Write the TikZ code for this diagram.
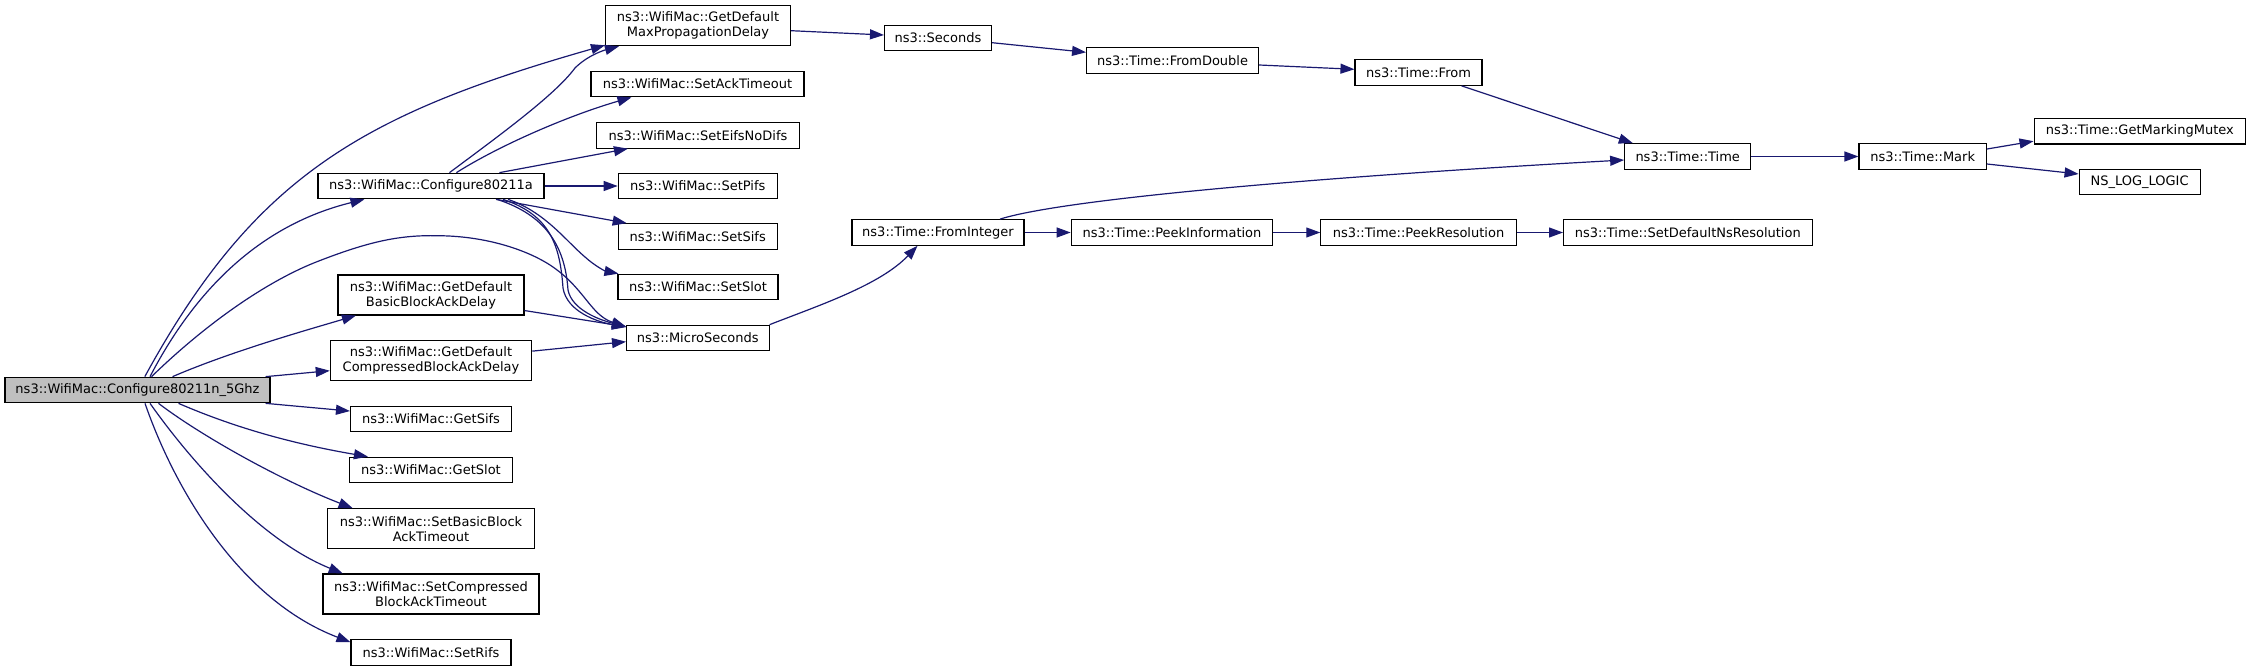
\documentclass[tikz,border=0pt]{standalone}
\usepackage{fontspec}
\setmainfont{DejaVu Sans}
\usetikzlibrary{arrows.meta,calc}
\definecolor{edgeblue}{HTML}{191970}
\definecolor{rootgray}{HTML}{BFBFBF}
\tikzset{
  fn/.style={draw=black, line width=1.1pt, fill=white, inner sep=0pt, minimum height=25.6pt,
    font=\fontsize{13}{15}\selectfont, align=center, text=black},
  fntwo/.style={fn, minimum height=40pt},
  edge/.style={draw=edgeblue, line width=1.2pt, -{Triangle[length=14pt,width=10pt]}}
}
\begin{document}
\begin{tikzpicture}[x=1pt,y=-1pt]
\useasboundingbox (0,0) rectangle (2251,671);
% nodes
\node[fn, fill=rootgray, minimum width=265pt] (A) at (137.5,390) {ns3::WifiMac::Configure80211n\_5Ghz};
\node[fntwo, minimum width=185pt] (maxprop) at (698,25.7) {ns3::WifiMac::GetDefault\\MaxPropagationDelay};
\node[fn, minimum width=213pt] (setack) at (697.5,84) {ns3::WifiMac::SetAckTimeout};
\node[fn, minimum width=203pt] (seteifs) at (698,135.3) {ns3::WifiMac::SetEifsNoDifs};
\node[fn, minimum width=226pt] (B) at (431,186) {ns3::WifiMac::Configure80211a};
\node[fn, minimum width=159pt] (setpifs) at (697.7,186) {ns3::WifiMac::SetPifs};
\node[fn, minimum width=159pt] (setsifs) at (697.7,236.5) {ns3::WifiMac::SetSifs};
\node[fn, minimum width=160pt] (setslot) at (698,287) {ns3::WifiMac::SetSlot};
\node[fntwo, minimum width=186pt] (basic) at (431,295) {ns3::WifiMac::GetDefault\\BasicBlockAckDelay};
\node[fn, minimum width=142.5pt] (micro) at (697.8,338) {ns3::MicroSeconds};
\node[fntwo, minimum width=201.4pt] (comp) at (431,360.7) {ns3::WifiMac::GetDefault\\CompressedBlockAckDelay};
\node[fn, minimum width=161pt] (getsifs) at (431,419) {ns3::WifiMac::GetSifs};
\node[fn, minimum width=163pt] (getslot) at (431,470) {ns3::WifiMac::GetSlot};
\node[fntwo, minimum width=207pt] (setbasic) at (431,528.7) {ns3::WifiMac::SetBasicBlock\\AckTimeout};
\node[fntwo, minimum width=216pt] (setcomp) at (431,594) {ns3::WifiMac::SetCompressed\\BlockAckTimeout};
\node[fn, minimum width=160pt] (setrifs) at (431,652.5) {ns3::WifiMac::SetRifs};
\node[fn, minimum width=107pt] (seconds) at (938,38) {ns3::Seconds};
\node[fn, minimum width=172pt] (fromdouble) at (1172.6,60.5) {ns3::Time::FromDouble};
\node[fn, minimum width=127pt] (from) at (1418.5,72.5) {ns3::Time::From};
\node[fn, minimum width=172pt] (frominteger) at (938,232.5) {ns3::Time::FromInteger};
\node[fn, minimum width=201.6pt] (peekinfo) at (1172,232.5) {ns3::Time::PeekInformation};
\node[fn, minimum width=195.4pt] (peekres) at (1418.5,232.5) {ns3::Time::PeekResolution};
\node[fn, minimum width=248.5pt] (setdefns) at (1687.8,232.5) {ns3::Time::SetDefaultNsResolution};
\node[fn, minimum width=126pt] (time) at (1687.7,156.5) {ns3::Time::Time};
\node[fn, minimum width=127.4pt] (mark) at (1922.7,156.5) {ns3::Time::Mark};
\node[fn, minimum width=211.5pt] (mutex) at (2139.8,131.2) {ns3::Time::GetMarkingMutex};
\node[fn, minimum width=121pt] (nslog) at (2139.6,182) {NS\_LOG\_LOGIC};
% edges from root
\draw[edge] ($(A.north)+(7.3,0)$) .. controls (255,175) and (364,114) .. ($(maxprop.south west)+(0,-1)$);
\draw[edge] ($(A.north)+(12.5,0)$) .. controls (195,290) and (260,225) .. ($(B.south west)+(47,0)$);
\draw[edge] ($(A.north)+(14,0)$) .. controls (210,320) and (270,280) .. (317,261.7)
  .. controls (370,241) and (400,235) .. (437.5,235.7)
  .. controls (490,236) and (530,252) .. (550,265)
  .. controls (585,288) and (590,315) .. ($(micro.north west)+(0,2)$);
\draw[edge] ($(A.north)+(35,0)$) .. controls (230,352) and (300,332) .. ($(basic.south west)+(18.5,0)$);
\draw[edge] ($(A.north east)+(-5,0)$) -- ($(comp.west)+(0,10)$);
\draw[edge] ($(A.south east)+(-5,0)$) -- ($(getsifs.north west)+(0,5.4)$);
\draw[edge] ($(A.south)+(41,0)$) .. controls (240,430) and (300,445) .. ($(getslot.north west)+(19,0)$);
\draw[edge] ($(A.south)+(21,0)$) .. controls (200,435) and (280,480) .. ($(setbasic.north west)+(25.7,0)$);
\draw[edge] ($(A.south)+(12.5,0)$) .. controls (190,460) and (260,540) .. ($(setcomp.north west)+(20.3,0)$);
\draw[edge] ($(A.south)+(7.5,0)$) .. controls (175,490) and (240,600) .. ($(setrifs.north west)+(0,3)$);
% edges from Configure80211a
\draw[edge] ($(B.north)+(18.5,0)$) .. controls (500,135) and (555,95) .. (575,68)
  .. controls (588,55) and (605,50) .. ($(maxprop.south west)+(14,0)$);
\draw[edge] ($(B.north)+(25.4,0)$) .. controls (500,145) and (570,115) .. ($(setack.south west)+(41,0)$);
\draw[edge] ($(B.north)+(68.4,0)$) -- ($(seteifs.south west)+(32,0)$);
\draw[edge] (B.east) -- (setpifs.west);
\draw[edge] ($(B.south)+(65,0)$) -- ($(setsifs.north west)+(9,0)$);
\draw[edge] ($(B.south)+(77,0)$) .. controls (545,212) and (565,240) .. (585,257)
  .. controls (595,266) and (605,271) .. ($(setslot.north west)+(1,0)$);
\draw[edge] ($(B.south)+(66,0)$) .. controls (545,215) and (565,245) .. (568,290)
  .. controls (572,310) and (600,320) .. ($(micro.north west)+(0,2)$);
\draw[edge] ($(B.south)+(72,0)$) .. controls (550,215) and (560,245) .. (563,288)
  .. controls (567,312) and (598,322) .. ($(micro.north west)+(0,2.5)$);
% delay nodes to MicroSeconds
\draw[edge] ($(basic.south east)+(0,-5)$) -- ($(micro.north west)+(0,2)$);
\draw[edge] ($(comp.north east)+(0,11)$) -- ($(micro.west)+(0,3.7)$);
% Seconds chain
\draw[edge] ($(maxprop.east)+(0,5)$) -- ($(seconds.west)+(0,-3)$);
\draw[edge] ($(seconds.east)+(0,4.7)$) -- ($(fromdouble.west)+(0,-8.2)$);
\draw[edge] ($(fromdouble.east)+(0,4.5)$) -- ($(from.west)+(0,-3.2)$);
\draw[edge] ($(from.south east)+(-21,0)$) -- ($(time.north west)+(8.7,0)$);
% MicroSeconds chain
\draw[edge] (micro.north east) .. controls (820,305) and (880,285) .. ($(frominteger.south west)+(66,0)$);
\draw[edge] ($(frominteger.north east)+(-24.6,0)$) .. controls (1060,200) and (1300,178) .. ($(time.west)+(0,3.5)$);
\draw[edge] (frominteger.east) -- (peekinfo.west);
\draw[edge] (peekinfo.east) -- (peekres.west);
\draw[edge] (peekres.east) -- (setdefns.west);
\draw[edge] (time.east) -- (mark.west);
\draw[edge] ($(mark.east)+(0,-7.5)$) -- ($(mutex.west)+(0,10)$);
\draw[edge] ($(mark.east)+(0,7.5)$) -- ($(nslog.west)+(0,-8)$);
\end{tikzpicture}
\end{document}
